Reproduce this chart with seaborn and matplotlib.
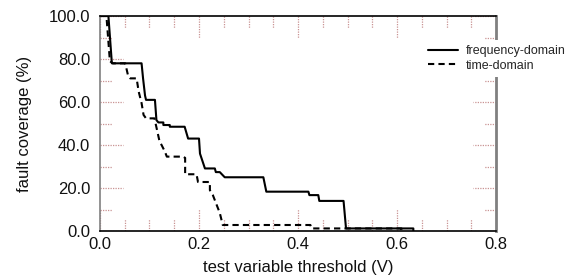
import matplotlib
matplotlib.use("Agg")
import matplotlib.pyplot as plt
import matplotlib.transforms as mtransforms
from matplotlib.ticker import MultipleLocator, FormatStrFormatter
import seaborn as sns
import pandas as pd

# threshold (V) / fault coverage (%)
freq_x = [0.000, 0.017, 0.024, 0.084, 0.087, 0.091, 0.093, 0.111, 0.114, 0.118,
          0.128, 0.128, 0.141, 0.141, 0.171, 0.178, 0.200, 0.202, 0.212, 0.232,
          0.234, 0.242, 0.252, 0.330, 0.336, 0.421, 0.423, 0.441, 0.443, 0.492,
          0.497, 0.633, 0.633]
freq_y = [100.0, 100.0, 78.0, 78.0, 71.0, 63.0, 61.0, 61.0, 51.6, 50.5,
          50.5, 49.3, 49.3, 48.5, 48.5, 43.0, 43.0, 36.0, 29.1, 29.1,
          27.4, 27.4, 25.0, 25.0, 18.3, 18.3, 16.7, 16.7, 14.0, 14.0,
          1.2, 1.2, 0.0]

time_x = [0.000, 0.013, 0.020, 0.026, 0.051, 0.057, 0.061, 0.074, 0.078, 0.084,
          0.088, 0.093, 0.110, 0.120, 0.131, 0.135, 0.168, 0.172, 0.172, 0.195,
          0.198, 0.222, 0.222, 0.228, 0.242, 0.248, 0.425, 0.427, 0.609, 0.609]
time_y = [100.0, 100.0, 79.0, 78.0, 78.0, 72.0, 71.0, 71.0, 65.0, 59.5,
          54.0, 52.4, 52.4, 42.0, 37.0, 34.6, 34.6, 34.0, 26.4, 26.4,
          22.8, 22.8, 19.0, 16.7, 8.4, 2.8, 2.8, 1.2, 1.2, 0.0]

series = ["frequency-domain", "time-domain"]

sns.set_style("white")
plt.rcParams["font.family"] = ["Liberation Sans", "DejaVu Sans"]

fig = plt.figure(figsize=(5.8, 2.78), dpi=100)
ax = fig.add_axes([0.1724, 0.169, 0.6828, 0.7734])

sns.lineplot(x=freq_x, y=freq_y, estimator=None, sort=False, color="black",
             linewidth=1.5, label=series[0], ax=ax)
sns.lineplot(x=time_x, y=time_y, estimator=None, sort=False, color="black",
             linewidth=1.5, dashes=False, label=series[1], ax=ax)
ax.lines[1].set_dashes([3, 2])

ax.set_xlim(0, 0.8)
ax.set_ylim(0, 100)
ax.xaxis.set_major_locator(MultipleLocator(0.2))
ax.xaxis.set_minor_locator(MultipleLocator(0.05))
ax.yaxis.set_major_locator(MultipleLocator(20))
ax.yaxis.set_minor_locator(MultipleLocator(10))
ax.xaxis.set_major_formatter(FormatStrFormatter("%.1f"))
ax.yaxis.set_major_formatter(FormatStrFormatter("%.1f"))
ax.tick_params(axis="both", which="both", length=0, labelsize=12, labelcolor="#111111")
ax.tick_params(axis="x", pad=4)
ax.tick_params(axis="y", pad=7)

# dotted inward ticks on all four sides
tick_col = "#c99393"
tx = mtransforms.blended_transform_factory(ax.transData, ax.transAxes)
ty = mtransforms.blended_transform_factory(ax.transAxes, ax.transData)
for locs, ln in [(ax.xaxis.get_majorticklocs(), 0.102), (ax.xaxis.get_minorticklocs(), 0.056)]:
    for v in locs:
        if 0 <= v <= 0.8:
            ax.plot([v, v], [0, ln], transform=tx, color=tick_col, lw=0.9, ls=(0, (1, 1)), zorder=1)
            ax.plot([v, v], [1, 1 - ln], transform=tx, color=tick_col, lw=0.9, ls=(0, (1, 1)), zorder=1)
for locs, ln in [(ax.yaxis.get_majorticklocs(), 0.058), (ax.yaxis.get_minorticklocs(), 0.03)]:
    for v in locs:
        if 0 <= v <= 100:
            ax.plot([0, ln], [v, v], transform=ty, color=tick_col, lw=0.9, ls=(0, (1, 1)), zorder=1)
            ax.plot([1, 1 - ln], [v, v], transform=ty, color=tick_col, lw=0.9, ls=(0, (1, 1)), zorder=1)

ax.set_xlabel("test variable threshold (V)", fontsize=12, labelpad=6, color="#111111")
ax.set_ylabel("fault coverage (%)", fontsize=12, labelpad=12, color="#111111")

for side in ["top", "bottom"]:
    ax.spines[side].set_color("black")
    ax.spines[side].set_linewidth(1.2)
ax.spines["left"].set_color("#808080")
ax.spines["left"].set_linewidth(1.2)
ax.spines["right"].set_color("#808080")
ax.spines["right"].set_linewidth(2)

leg = ax.legend(loc="upper left", bbox_to_anchor=(0.729, 0.856),
                bbox_transform=fig.transFigure, fontsize=9, frameon=True,
                facecolor="white", edgecolor="none", framealpha=1, fancybox=False,
                borderpad=0.4, handlelength=2.4, handletextpad=0.6,
                labelspacing=0.2, borderaxespad=0)
leg.set_zorder(10)

fig.savefig("out.png", dpi=100)
